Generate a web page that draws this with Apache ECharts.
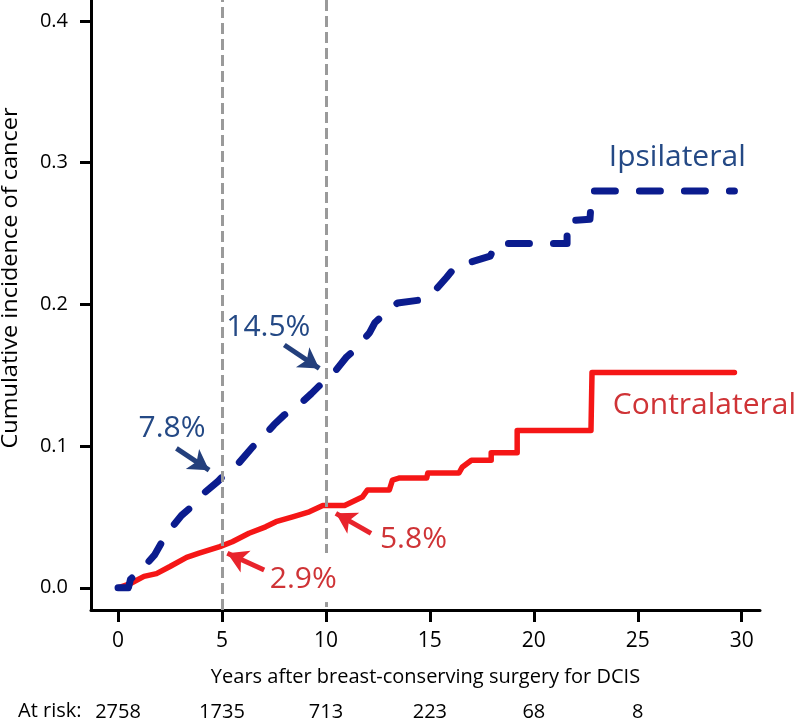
<!DOCTYPE html>
<html><head><meta charset="utf-8">
<script src="https://cdn.jsdelivr.net/npm/echarts@6/dist/echarts.min.js"></script>
<style>html,body{margin:0;padding:0;background:#fff}#c{width:800px;height:723px}</style>
</head><body><div id="c"></div>
<script>
// ---- data ----
const xTicks = [0, 5, 10, 15, 20, 25, 30];
const yTicks = [0, 0.1, 0.2, 0.3, 0.4];
const atRiskYears = [0, 5, 10, 15, 20, 25];
const atRisk = [2758, 1735, 713, 223, 68, 8];

const ipsiX = [0, 0.5, 0.6, 1.2, 1.75, 2.1, 2.55, 3.05, 3.6, 4.15, 4.8, 5.0, 5.3, 5.75, 6.45, 6.95, 7.5, 8.0, 8.7, 9.3, 9.85, 10.4, 11.0, 11.4, 12.1, 12.35, 12.95, 13.45, 14.5, 15.2, 15.8, 16.2, 17.0, 17.9, 18.2, 21.6, 21.6, 22.7, 22.8, 29.65];
const ipsiY = [0, 0, 0.006, 0.014, 0.023, 0.032, 0.042, 0.051, 0.058, 0.067, 0.075, 0.078, 0.082, 0.087, 0.099, 0.106, 0.115, 0.122, 0.129, 0.137, 0.145, 0.152, 0.163, 0.168, 0.180, 0.187, 0.195, 0.201, 0.203, 0.209, 0.219, 0.226, 0.230, 0.234, 0.243, 0.243, 0.259, 0.260, 0.280, 0.280];

const contraX = [0, 0.6, 1.25, 1.85, 2.5, 3.3, 3.9, 4.9, 5.5, 6.3, 7.1, 7.6, 8.4, 9.2, 9.85, 10.9, 11.75, 12.0, 13.05, 13.2, 13.55, 14.85, 14.9, 16.4, 16.55, 17.0, 17.95, 17.95, 19.2, 19.2, 22.75, 22.8, 29.65];
const contraY = [0, 0.003, 0.008, 0.010, 0.015, 0.0215, 0.0245, 0.029, 0.0325, 0.0385, 0.043, 0.0466, 0.050, 0.0536, 0.058, 0.058, 0.064, 0.069, 0.069, 0.076, 0.0775, 0.0775, 0.081, 0.081, 0.085, 0.090, 0.090, 0.0953, 0.0953, 0.111, 0.111, 0.152, 0.152];

const refYears = [5, 10];

const noteText = ['7.8%', '14.5%', '2.9%', '5.8%', 'Ipsilateral', 'Contralateral'];
const noteX = [2.6, 7.23, 8.91, 14.21, 26.9, 23.8];
const noteY = [0.1127, 0.184, 0.0061, 0.034, 0.3038, 0.129];

const arrowFromX = [2.81, 8.0, 7.03, 12.17];
const arrowFromY = [0.0984, 0.1713, 0.0125, 0.0384];
const arrowToX = [4.38, 9.68, 5.26, 10.48];
const arrowToY = [0.083, 0.1548, 0.0243, 0.0525];

// ---- styling ----
const BLUE_LINE = '#0b1c8e', RED_LINE = '#f51616';
const BLUE_TEXT = '#244985', RED_TEXT = '#cf3336';
const BLUE_ARROW = '#233f7c', RED_ARROW = '#e8242c';
const FONT = '"Open Sans", "DejaVu Sans", sans-serif';
const xMin = -1.3, xMax = 30.88, yMin = -0.0157, yMax = 0.4148;

const zip = (a, b) => a.map((v, i) => [v, b[i]]);
const noteColors = [BLUE_TEXT, BLUE_TEXT, RED_TEXT, RED_TEXT, BLUE_TEXT, RED_TEXT];
const noteAlign = ['center', 'center', 'center', 'center', 'center', 'left'];
const arrowColors = [BLUE_ARROW, BLUE_ARROW, RED_ARROW, RED_ARROW];

const chart = echarts.init(document.getElementById('c'), null, {renderer: 'canvas'});
chart.setOption({
  animation: false,
  backgroundColor: '#fff',
  grid: {left: 91, right: 40, top: 0, bottom: 113, containLabel: false},
  xAxis: [{
    type: 'value', min: xMin, max: xMax, position: 'bottom',
    axisLine: {show: true, onZero: false, lineStyle: {color: '#000', width: 3}},
    axisTick: {show: true, customValues: xTicks, length: 12, lineStyle: {color: '#000', width: 3}},
    axisLabel: {customValues: xTicks, margin: 21, color: '#000', fontSize: 21, fontFamily: FONT},
    splitLine: {show: false},
    name: 'Years after breast-conserving surgery for DCIS', nameLocation: 'middle', nameGap: 57,
    nameTextStyle: {color: '#000', fontSize: 20, fontFamily: FONT}
  }, {
    type: 'value', min: xMin, max: xMax, position: 'bottom', offset: 0,
    axisLine: {show: false}, axisTick: {show: false}, splitLine: {show: false},
    axisLabel: {customValues: atRiskYears, margin: 92, color: '#000', fontSize: 20, fontFamily: FONT,
      formatter: v => { const i = atRiskYears.indexOf(v); return i >= 0 ? String(atRisk[i]) : ''; }}
  }],
  yAxis: {
    type: 'value', min: yMin, max: yMax,
    axisLine: {show: true, onZero: false, lineStyle: {color: '#000', width: 3}},
    axisTick: {show: true, customValues: yTicks, length: 11, lineStyle: {color: '#000', width: 3}},
    axisLabel: {customValues: yTicks, margin: 23, color: '#000', fontSize: 20, fontFamily: FONT,
      formatter: v => v.toFixed(1)},
    splitLine: {show: false}
  },
  graphic: [
    {type: 'text', left: 18, top: 701, style: {text: 'At risk:', font: '20px ' + FONT, fill: '#000'}},
    {type: 'text', x: 11, y: 278, rotation: Math.PI / 2, scaleX: 1.12,
      style: {text: 'Cumulative incidence of cancer', font: '21px ' + FONT, fill: '#000', align: 'center', verticalAlign: 'middle'}}
  ],
  series: [
    {
      name: 'ref', type: 'line', data: [], z: 1, silent: true,
      markLine: {
        silent: true, symbol: ['none', 'none'], label: {show: false},
        lineStyle: {color: '#9a9a9a', width: 3, type: [11, 5]},
        emphasis: {disabled: true},
        data: [
          {xAxis: refYears[0]},
          [{coord: [refYears[1], yMax]}, {coord: [refYears[1], 0.0245]}],
          [{coord: [refYears[1], -0.0101]}, {coord: [refYears[1], -0.0136]}]
        ]
      }
    },
    {
      name: 'Contralateral', type: 'line', data: zip(contraX, contraY), z: 3,
      showSymbol: false, silent: true,
      lineStyle: {color: RED_LINE, width: 5.5, join: 'round', cap: 'round'}
    },
    {
      name: 'Ipsilateral', type: 'line', data: zip(ipsiX, ipsiY), z: 4,
      showSymbol: false, silent: true,
      lineStyle: {color: BLUE_LINE, width: 7, type: [21, 24], cap: 'round', join: 'round'}
    },
    {
      name: 'arrows', type: 'line', data: [], z: 5, silent: true,
      markLine: {
        silent: true, symbol: ['none', 'arrow'], symbolSize: [18, 20], label: {show: false},
        emphasis: {disabled: true},
        data: arrowFromX.map((x, i) => [
          {coord: [x, arrowFromY[i]], lineStyle: {color: arrowColors[i], width: 5, type: 'solid'}, itemStyle: {color: arrowColors[i]}},
          {coord: [arrowToX[i], arrowToY[i]]}
        ])
      }
    },
    {
      name: 'notes', type: 'scatter', z: 6, silent: true, symbolSize: 0,
      data: noteText.map((t, i) => ({
        value: [noteX[i], noteY[i]], name: t,
        itemStyle: {color: noteColors[i], opacity: 1},
        label: {show: true, position: 'inside', formatter: t, color: noteColors[i], opacity: 1, fontSize: 30,
          fontFamily: FONT, align: noteAlign[i], verticalAlign: 'middle'}
      }))
    }
  ]
});
</script>
</body></html>
